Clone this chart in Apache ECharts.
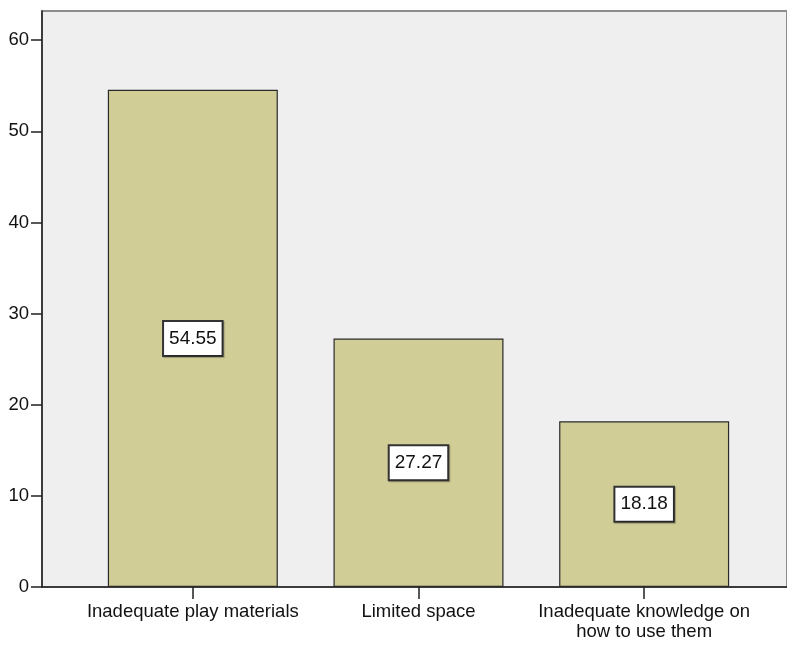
<!DOCTYPE html>
<html>
<head>
<meta charset="utf-8">
<style>
  html, body { margin: 0; padding: 0; background: #ffffff; }
  #chart { width: 787px; height: 645px; }
</style>
<script src="https://cdn.jsdelivr.net/npm/echarts@6/dist/echarts.min.js"></script>
</head>
<body>
<div id="chart"></div>
<script>
// Reasons given, share of respondents (%)
const categories = [
  'Inadequate play materials',
  'Limited space',
  'Inadequate knowledge on\nhow to use them'
];
const percentValues = [54.55, 27.27, 18.18];
const yTickValues = [0, 10, 20, 30, 40, 50, 60];

const Y_MAX = 63.2;
const SANS = '"Liberation Sans", Arial, sans-serif';

const chart = echarts.init(document.getElementById('chart'));

chart.setOption({
  animation: false,
  backgroundColor: '#ffffff',
  grid: [
    { // frame: background, value axis and baseline
      left: 42, right: 0, top: 11, bottom: 58,
      outerBoundsMode: 'none',
      show: true,
      backgroundColor: '#efefef',
      borderColor: '#8c8c8c',
      borderWidth: 2
    },
    { // category band for the bars
      left: 80, right: 30, top: 11, bottom: 58,
      outerBoundsMode: 'none'
    }
  ],
  xAxis: [
    {
      gridIndex: 0, type: 'value', min: 0, max: 1,
      axisLine: { show: true, onZero: false, lineStyle: { color: '#222222', width: 1.5 } },
      axisTick: { show: false }, axisLabel: { show: false }, splitLine: { show: false }
    },
    {
      gridIndex: 1, type: 'category', data: categories,
      axisLine: { show: false },
      axisTick: { show: true, alignWithLabel: true, length: 12, lineStyle: { color: '#222222', width: 1.5 } },
      axisLabel: {
        margin: 15, color: '#111111', fontFamily: SANS, fontSize: 18.5,
        lineHeight: 20, interval: 0
      },
      splitLine: { show: false }
    }
  ],
  yAxis: [
    {
      gridIndex: 0, type: 'value', min: 0, max: Y_MAX, interval: 10,
      axisLine: { show: true, lineStyle: { color: '#222222', width: 1.5 } },
      axisTick: { show: true, length: 11, customValues: yTickValues, lineStyle: { color: '#222222', width: 1.5 } },
      axisLabel: { margin: 13, color: '#111111', fontFamily: SANS, fontSize: 18.5, customValues: yTickValues },
      splitLine: { show: false }
    },
    {
      gridIndex: 1, type: 'value', min: 0, max: Y_MAX, show: false,
      splitLine: { show: false }
    }
  ],
  series: [
    {
      type: 'bar',
      xAxisIndex: 1, yAxisIndex: 1,
      data: percentValues,
      barWidth: 170,
      itemStyle: { color: '#d1cd97', borderColor: '#2a2a2a', borderWidth: 1.2 },
      label: {
        show: true,
        position: 'inside',
        formatter: p => p.value.toFixed(2),
        color: '#111111',
        fontFamily: SANS,
        fontSize: 19,
        lineHeight: 20,
        backgroundColor: '#ffffff',
        borderColor: '#333333',
        borderWidth: 2,
        padding: [7, 5, 6, 5],
        shadowColor: 'rgba(0,0,0,0.25)',
        shadowBlur: 1,
        shadowOffsetX: 1,
        shadowOffsetY: 1
      }
    }
  ]
});
</script>
</body>
</html>
